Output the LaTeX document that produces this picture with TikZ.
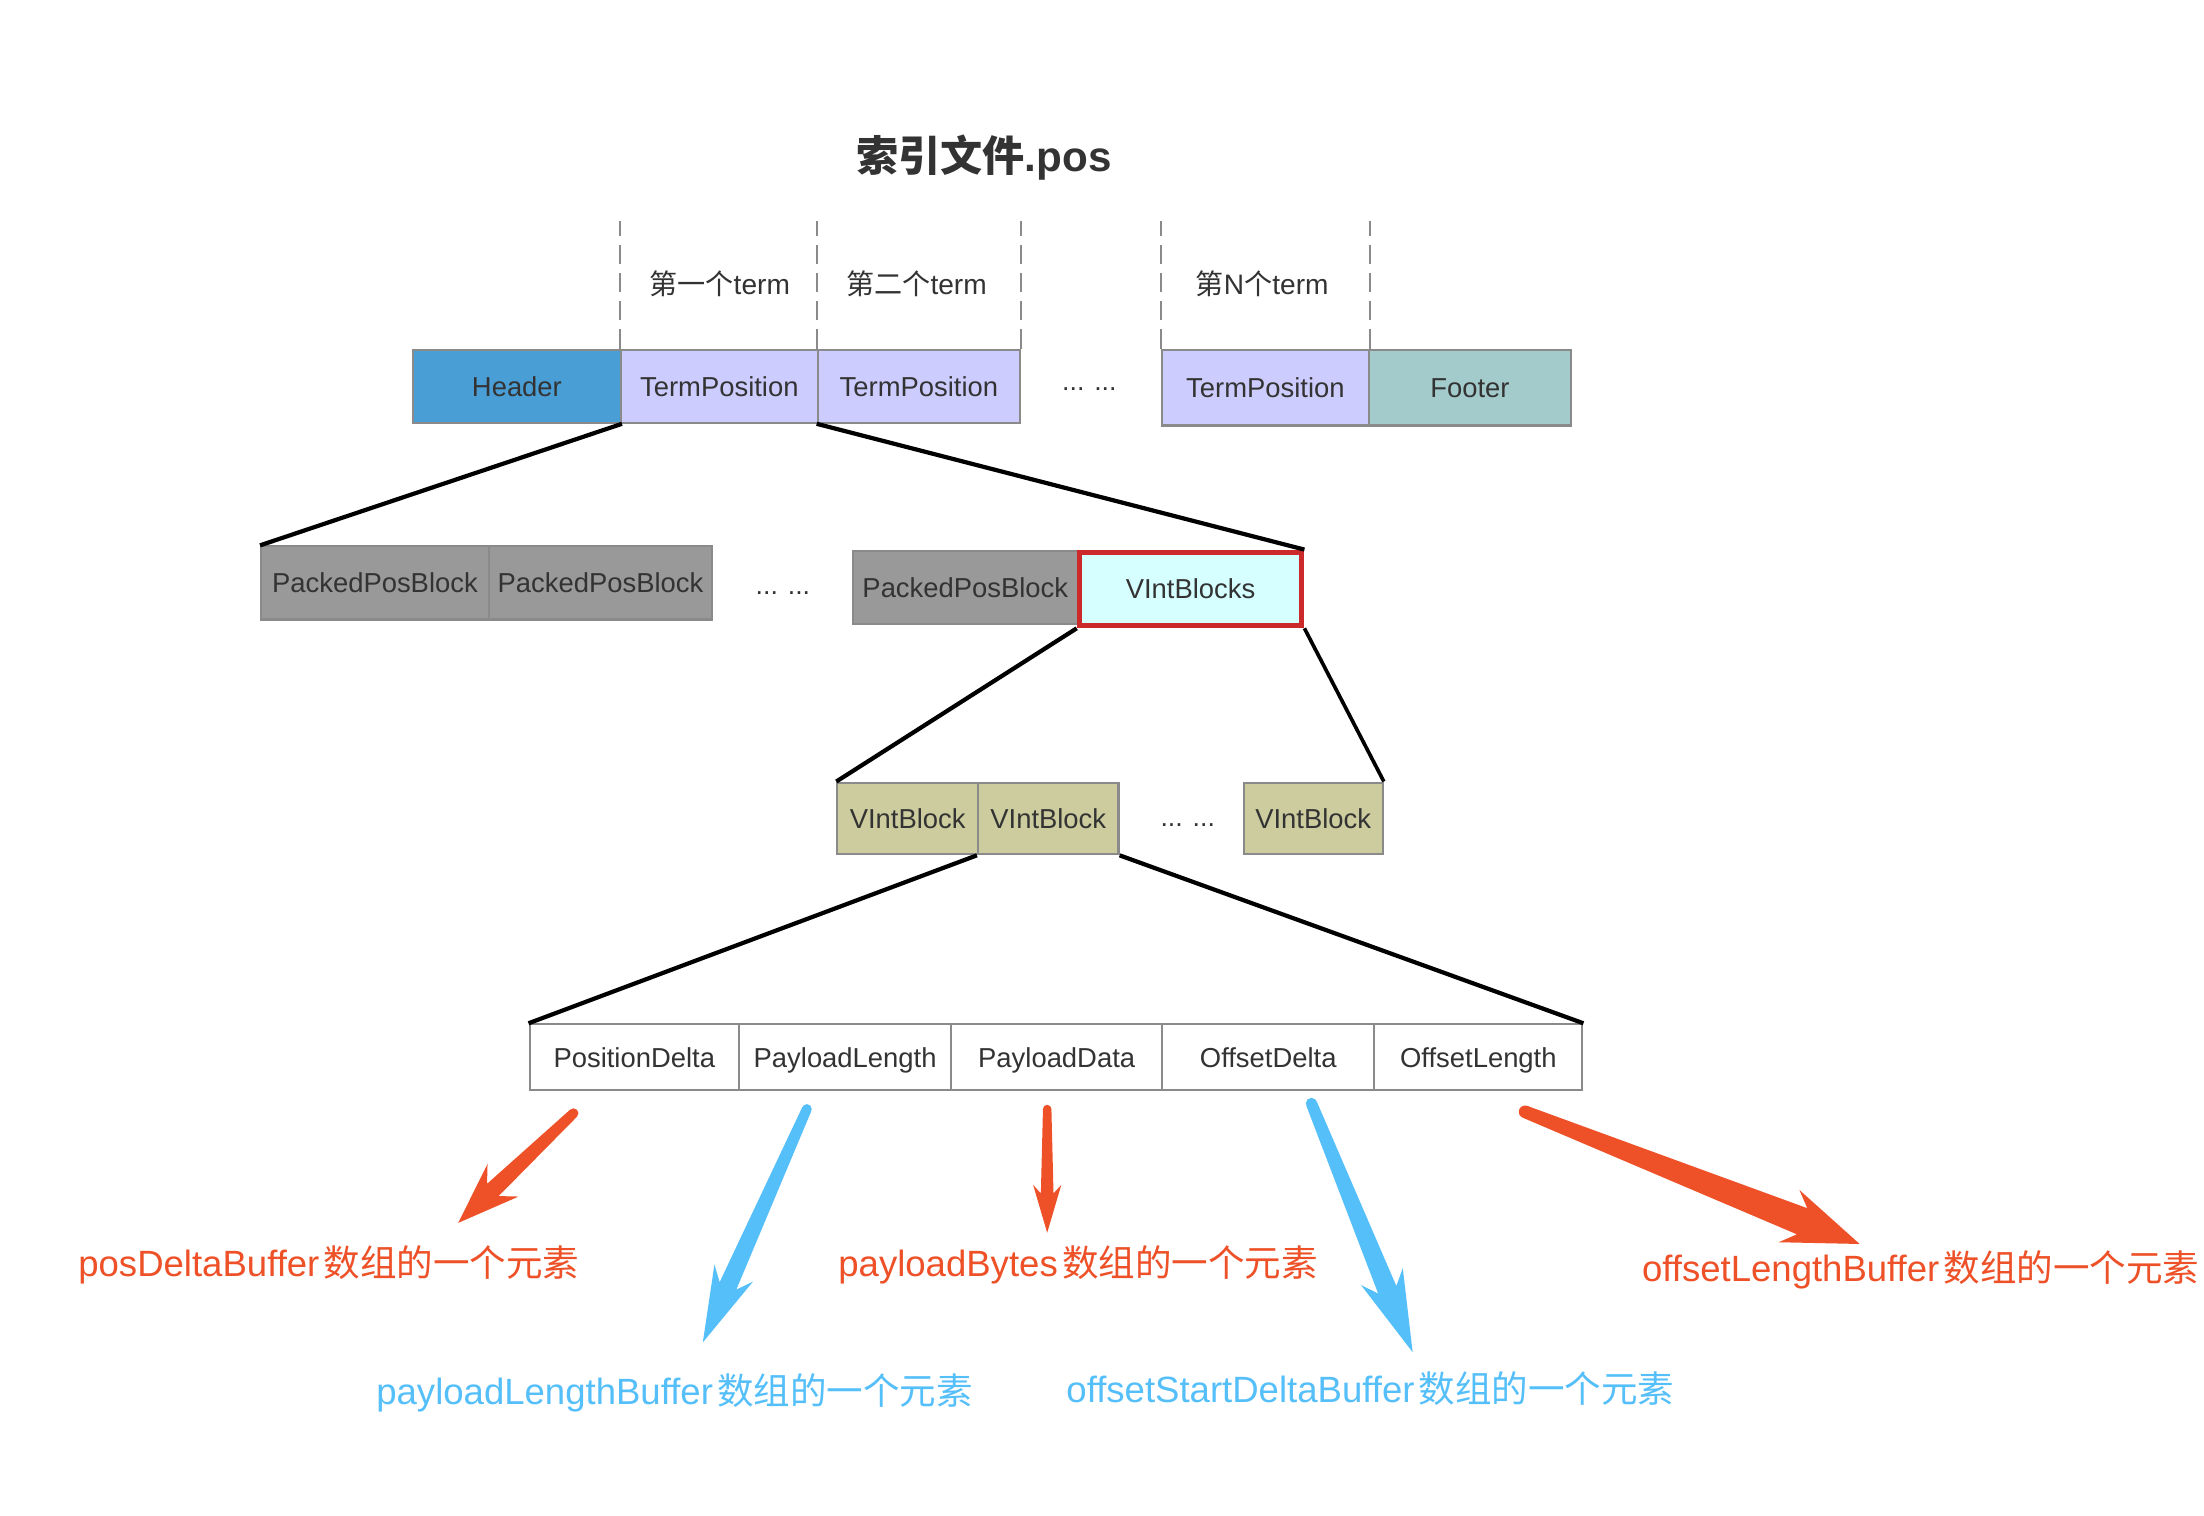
\documentclass[tikz,border=0pt]{standalone}
\usepackage{fontspec}
\setmainfont{Liberation Sans}
\newfontfamily\cjk{Noto Sans CJK SC}
\usetikzlibrary{calc}
\definecolor{hdrblue}{HTML}{4A9ED6}
\definecolor{termfill}{HTML}{CCCCFF}
\definecolor{ftrfill}{HTML}{A3CBCB}
\definecolor{packfill}{HTML}{999999}
\definecolor{vibsfill}{HTML}{D6FFFF}
\definecolor{vibfill}{HTML}{CCCC9F}
\definecolor{redborder}{HTML}{CC2A2A}
\definecolor{boxgray}{HTML}{8A8A8A}
\definecolor{textdark}{HTML}{333333}
\definecolor{arrred}{HTML}{EE5027}
\definecolor{arrblue}{HTML}{55BFFA}
\newcommand\fatarrow[8]{%
  \path ($(#3)!#6!(#2)$) coordinate (fan) ($(#3)!#7!(#2)$) coordinate (fah);
  \fill[#1] (#2) circle (#4);
  \fill[#1] ($(#2)!#4!90:(#3)$) -- ($(fan)!#5!-90:(#2)$) -- ($(fah)!#8!-90:(#2)$) -- (#3)
    -- ($(fah)!#8!90:(#2)$) -- ($(fan)!#5!90:(#2)$) -- ($(#2)!#4!-90:(#3)$) -- cycle;
}
\begin{document}
\begin{tikzpicture}[x=1pt,y=-1pt,
  blk/.style={draw=boxgray, line width=1.5pt, inner sep=0pt, anchor=north west,
    font=\fontsize{19.5}{20}\selectfont, text=textdark, text height=17pt, text depth=3pt},
  lbl/.style={font=\fontsize{20}{22}\selectfont, text=textdark, inner sep=0pt},
  dotlbl/.style={font=\fontsize{19}{20}\selectfont, text=textdark, inner sep=0pt},
  dashline/.style={draw=boxgray, line width=1.5pt, dash pattern=on 14pt off 6pt},
  conn/.style={draw=black, line width=3pt},
  note/.style={font=\fontsize{26}{28}\selectfont, inner sep=0pt, text height=24pt, text depth=4pt}]
\useasboundingbox (0,0) rectangle (1568,1078);
\fill[white] (0,0) rectangle (1568,1078);

% title
\node[font=\fontsize{30}{32}\selectfont\bfseries, text=textdark, inner sep=0pt] (title) at (700,112) {{\cjk\bfseries 索引文件}.pos};

% row 1
\node[blk, fill=hdrblue, minimum width=148pt, minimum height=52pt] (hdr) at (293,248) {Header};
\node[blk, fill=termfill, minimum width=140pt, minimum height=52pt] (tp1) at (441,248) {TermPosition};
\node[blk, fill=termfill, minimum width=144pt, minimum height=52pt] (tp2) at (581,248) {TermPosition};
\node[dotlbl] (dots1) at (775,277) {... ...};
\node[blk, fill=termfill, minimum width=147pt, minimum height=54pt] (tpn) at (826,248) {TermPosition};
\node[blk, fill=ftrfill, minimum width=144pt, minimum height=54pt] (ftr) at (973,248) {Footer};

\draw[dashline] (tp1.north west) -- ++(0,-91);
\draw[dashline] (tp2.north west) -- ++(0,-91);
\draw[dashline] (tp2.north east) -- ++(0,-91);
\draw[dashline] (tpn.north west) -- ++(0,-91);
\draw[dashline] (tpn.north east) -- ++(0,-91);

\node[lbl] (t1) at (512,202) {{\cjk 第一个}term};
\node[lbl] (t2) at (652,202) {{\cjk 第二个}term};
\node[lbl] (tn) at (898,202) {{\cjk 第}N{\cjk 个}term};

% row 2
\node[blk, fill=packfill, minimum width=162pt, minimum height=52pt] (pp1) at (185,388) {PackedPosBlock};
\node[blk, fill=packfill, minimum width=159pt, minimum height=52pt] (pp2) at (347,388) {PackedPosBlock};
\node[dotlbl] (dots2) at (557,422) {... ...};
\node[blk, fill=packfill, minimum width=160pt, minimum height=52pt] (pp3) at (606,391) {PackedPosBlock};
\node[blk, fill=vibsfill, draw=redborder, line width=4pt, minimum width=158pt, minimum height=52pt] (vib) at (766,391) {VIntBlocks};

\draw[conn] (hdr.south east) -- (pp1.north west);
\draw[conn] (tp2.south west) -- (vib.north east);

% row 3
\node[blk, fill=vibfill, minimum width=100pt, minimum height=51pt] (vb1) at (595,556) {VIntBlock};
\node[blk, fill=vibfill, minimum width=100pt, minimum height=51pt] (vb2) at (695,556) {VIntBlock};
\node[dotlbl] (dots3) at (845,587) {... ...};
\node[blk, fill=vibfill, minimum width=99pt, minimum height=51pt] (vb3) at (884,556) {VIntBlock};

\draw[conn] (vib.south west) -- (vb1.north west);
\draw[conn, line width=2.6pt] (vib.south east) -- (vb3.north east);

% row 4
\node[blk, fill=white, minimum width=149pt, minimum height=47pt] (f1) at (376,728) {PositionDelta};
\node[blk, fill=white, minimum width=151pt, minimum height=47pt] (f2) at (525,728) {PayloadLength};
\node[blk, fill=white, minimum width=150pt, minimum height=47pt] (f3) at (676,728) {PayloadData};
\node[blk, fill=white, minimum width=151pt, minimum height=47pt] (f4) at (826,728) {OffsetDelta};
\node[blk, fill=white, minimum width=148pt, minimum height=47pt] (f5) at (977,728) {OffsetLength};

\draw[conn] (vb2.south west) -- (f1.north west);
\draw[conn] (vb2.south east) -- (f5.north east);

% arrows
\coordinate (a1s) at (408,792); \coordinate (a1e) at (326,870);
\coordinate (a2s) at (574,789); \coordinate (a2e) at (500,955);
\coordinate (a3s) at (745,789); \coordinate (a3e) at (745,877);
\coordinate (a4s) at (933,785); \coordinate (a4e) at (1005,962);
\coordinate (a5s) at (1085,791); \coordinate (a5e) at (1323,885);
\fatarrow{arrred}{a1s}{a1e}{3.5pt}{6pt}{34pt}{44pt}{16pt}
\fatarrow{arrblue}{a2s}{a2e}{3.5pt}{6.5pt}{44pt}{54pt}{15pt}
\fatarrow{arrred}{a3s}{a3e}{3pt}{4.5pt}{28pt}{34pt}{10pt}
\fatarrow{arrblue}{a4s}{a4e}{4pt}{7pt}{48pt}{58pt}{16pt}
\fatarrow{arrred}{a5s}{a5e}{4.5pt}{10pt}{44pt}{54pt}{20pt}

% notes
\node[note, text=arrred] (n1) at (234,898) {posDeltaBuffer\hspace{3pt}{\cjk 数组的一个元素}};
\node[note, text=arrblue] (n2) at (480,989) {payloadLengthBuffer\hspace{3pt}{\cjk 数组的一个元素}};
\node[note, text=arrred] (n3) at (767,898) {payloadBytes\hspace{3pt}{\cjk 数组的一个元素}};
\node[note, text=arrblue] (n4) at (975,988) {offsetStartDeltaBuffer\hspace{3pt}{\cjk 数组的一个元素}};
\node[note, text=arrred, anchor=west] (n5) at (1168,902) {offsetLengthBuffer\hspace{3pt}{\cjk 数组的一个元素}};
\end{tikzpicture}
\end{document}
